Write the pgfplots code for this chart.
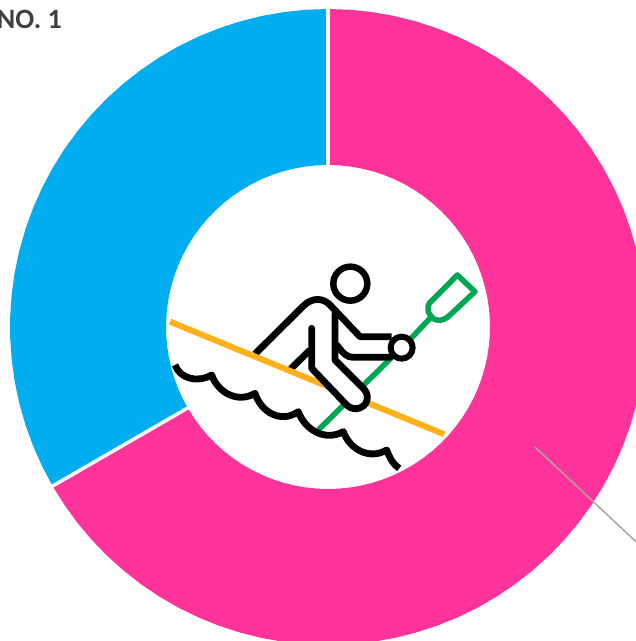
\documentclass[border=0pt]{standalone}
\usepackage{pgfplots}
\pgfplotsset{compat=1.18}
\usepackage{fontspec}
\setmainfont{Carlito}
\definecolor{pinkc}{HTML}{FF3399}
\definecolor{bluec}{HTML}{00AEEF}
\definecolor{yelc}{HTML}{FFB11B}
\definecolor{grnc}{HTML}{00A651}
\definecolor{txtc}{HTML}{404040}
\definecolor{leadc}{HTML}{A6A6A6}
\begin{document}
\begin{tikzpicture}
\useasboundingbox (0,0) rectangle (636pt,641pt);
\begin{axis}[at={(0,0)},anchor=south west,width=636pt,height=641pt,scale only axis,
  axis lines=none,xmin=-328,xmax=308,ymin=-314,ymax=327,clip=true]
% pink share (2/3)
\addplot[fill=pinkc,draw=none,data cs=polar] coordinates {
(90,318)(86,318)(82,318)(78,318)(74,318)(70,318)(66,318)(62,318)(58,318)(54,318)(50,318)(46,318)(42,318)(38,318)(34,318)(30,318)(26,318)(22,318)(18,318)(14,318)(10,318)(6,318)(2,318)(-2,318)(-6,318)(-10,318)(-14,318)(-18,318)(-22,318)(-26,318)(-30,318)(-34,318)(-38,318)(-42,318)(-46,318)(-50,318)(-54,318)(-58,318)(-62,318)(-66,318)(-70,318)(-74,318)(-78,318)(-82,318)(-86,318)(-90,318)(-94,318)(-98,318)(-102,318)(-106,318)(-110,318)(-114,318)(-118,318)(-122,318)(-126,318)(-130,318)(-134,318)(-138,318)(-142,318)(-146,318)(-150,318)
(-150,162)(-146,162)(-142,162)(-138,162)(-134,162)(-130,162)(-126,162)(-122,162)(-118,162)(-114,162)(-110,162)(-106,162)(-102,162)(-98,162)(-94,162)(-90,162)(-86,162)(-82,162)(-78,162)(-74,162)(-70,162)(-66,162)(-62,162)(-58,162)(-54,162)(-50,162)(-46,162)(-42,162)(-38,162)(-34,162)(-30,162)(-26,162)(-22,162)(-18,162)(-14,162)(-10,162)(-6,162)(-2,162)(2,162)(6,162)(10,162)(14,162)(18,162)(22,162)(26,162)(30,162)(34,162)(38,162)(42,162)(46,162)(50,162)(54,162)(58,162)(62,162)(66,162)(70,162)(74,162)(78,162)(82,162)(86,162)(90,162)
} --cycle;
% blue share (1/3)
\addplot[fill=bluec,draw=none,data cs=polar] coordinates {
(90,318)(94,318)(98,318)(102,318)(106,318)(110,318)(114,318)(118,318)(122,318)(126,318)(130,318)(134,318)(138,318)(142,318)(146,318)(150,318)(154,318)(158,318)(162,318)(166,318)(170,318)(174,318)(178,318)(182,318)(186,318)(190,318)(194,318)(198,318)(202,318)(206,318)(210,318)
(210,162)(206,162)(202,162)(198,162)(194,162)(190,162)(186,162)(182,162)(178,162)(174,162)(170,162)(166,162)(162,162)(158,162)(154,162)(150,162)(146,162)(142,162)(138,162)(134,162)(130,162)(126,162)(122,162)(118,162)(114,162)(110,162)(106,162)(102,162)(98,162)(94,162)(90,162)
} --cycle;
% separators
\addplot[white,line width=3.5pt,data cs=polar] coordinates {(90,155)(90,325)};
\addplot[white,line width=3.5pt,data cs=polar] coordinates {(210,155)(210,325)};
% leader line
\addplot[leadc,line width=1.5pt] coordinates {(207,-120)(320,-226)};
\end{axis}
% title, in pixel coordinates
\node[anchor=base east,inner sep=0pt,font=\fontsize{28}{28}\selectfont\bfseries,text=txtc] at (62pt,612pt) {NO. 1};
% pictogram, in coordinates of the 3x crop
\begin{scope}[shift={(160pt,391pt)},x=0.3333pt,y=-0.3333pt,line cap=round,line join=round]
  % oar
  \draw[grnc,line width=5.5pt,line cap=butt] (475,540) -- (760,258) -- (810,205);
  \draw[grnc,line width=5.5pt] (892,75) -- (945,125) -- (870,195) .. controls (845,220) and (820,212) .. (810,195) .. controls (798,175) and (803,160) .. (820,148) -- cycle;
  % lower wave
  \draw[black,line width=6.8pt,line cap=butt] (45,345) .. controls (60,385) and (110,400) .. (155,375)
     .. controls (175,430) and (235,460) .. (285,430)
     .. controls (305,490) and (365,520) .. (415,485)
     .. controls (435,540) and (495,575) .. (550,545)
     .. controls (570,600) and (630,630) .. (680,600)
     .. controls (690,625) and (700,645) .. (718,655);
  % torso
  \draw[black,line width=6.8pt,line cap=butt] (285,312) -- (430,168) .. controls (455,143) and (490,140) .. (515,170) -- (600,260) -- (695,260);
  \draw[black,line width=6.8pt] (530,285) .. controls (550,310) and (560,322) .. (580,322) -- (690,322);
  \draw[black,line width=6.8pt,line cap=butt] (392,357) -- (450,300);
  % yellow seat
  \draw[yelc,line width=6pt,line cap=butt] (30,215) -- (853,553);
  % leg
  \filldraw[draw=black,fill=white,line width=6.8pt] (455,235) -- (455,355) -- (560,465) .. controls (585,490) and (625,470) .. (622,440) .. controls (622,425) and (610,415) .. (600,405) -- (525,330) -- (525,190);
  % hand
  \filldraw[draw=black,fill=white,line width=6pt] (725,293) circle[radius=33];
  % head
  \draw[black,line width=6.5pt] (571,101) circle[radius=51];
\end{scope}
\end{tikzpicture}
\end{document}
